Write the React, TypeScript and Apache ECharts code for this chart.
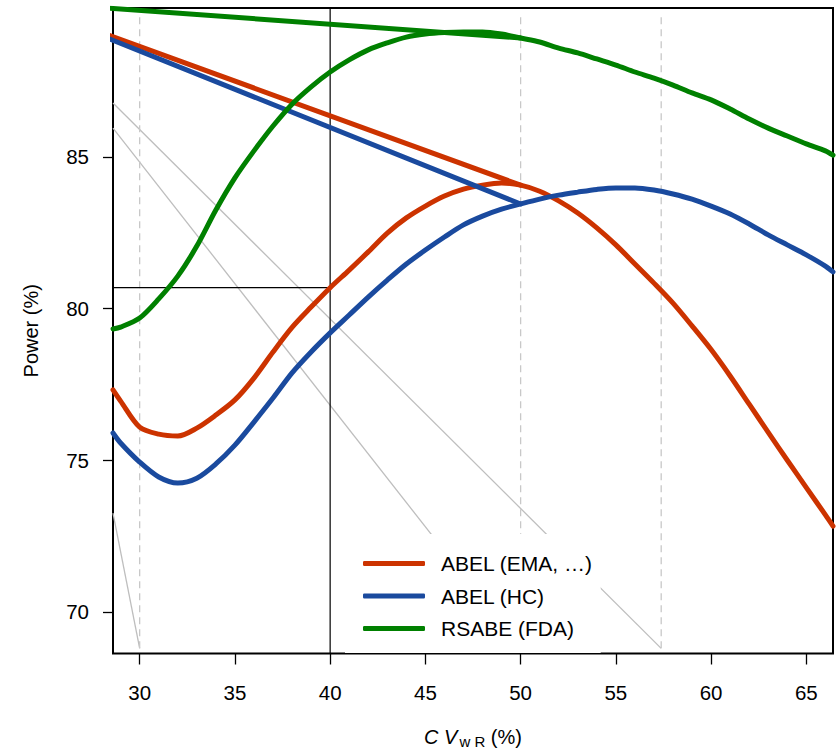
import React, { useEffect, useRef } from "react";
import * as echarts from "echarts";

// CV_wR (%) at which the powers were read
const cv = [
  28.6, 29, 30, 31, 32, 33, 34, 35, 36, 37, 38, 39, 40, 41, 42, 43, 44, 45, 46, 47,
  48, 49, 50, 51, 52, 53, 54, 55, 56, 57, 58, 59, 60, 61, 62, 63, 64, 65, 66, 66.4,
];
// Power (%) of each method
const abelEma = [
  77.32, 76.95, 76.09, 75.86, 75.8, 76.06, 76.49, 76.99, 77.71, 78.57, 79.38, 80.05, 80.69, 81.27, 81.87, 82.49, 82.99, 83.38, 83.71, 83.94,
  84.07, 84.14, 84.07, 83.87, 83.55, 83.15, 82.66, 82.1, 81.47, 80.84, 80.18, 79.43, 78.65, 77.78, 76.85, 75.92, 75.0, 74.1, 73.2, 72.83,
];
const abelHc = [
  75.9, 75.57, 74.94, 74.45, 74.25, 74.41, 74.88, 75.5, 76.26, 77.05, 77.88, 78.57, 79.2, 79.79, 80.38, 80.94, 81.47, 81.93, 82.36, 82.76,
  83.05, 83.28, 83.45, 83.61, 83.74, 83.84, 83.93, 83.98, 83.98, 83.91, 83.78, 83.61, 83.38, 83.12, 82.79, 82.43, 82.1, 81.77, 81.4, 81.21,
];
const rsabeFda = [
  79.33, 79.39, 79.69, 80.32, 81.07, 82.06, 83.25, 84.31, 85.2, 86.02, 86.74, 87.31, 87.8, 88.2, 88.53, 88.76, 88.95, 89.05, 89.1, 89.12,
  89.12, 89.05, 88.92, 88.79, 88.59, 88.43, 88.23, 88.03, 87.8, 87.6, 87.37, 87.11, 86.88, 86.58, 86.25, 85.95, 85.69, 85.43, 85.2, 85.06,
];

// straight connectors from a common off-chart point to the CV = 50 power
const connectorStart = [23.5, 90.13];
const connectorEndCV = 50;

// grey reference lines: [cv0, power0, cv1, power1]
const greyLines = [
  [28.6, 86.78, 57.38, 68.8],
  [28.6, 85.95, 50, 68.8],
  [28.6, 73.26, 30, 68.8],
];
// dashed vertical marks
const dashedCV = [30, 50, 57.38];
const dashedRange = [68.8, 89.75];
// black cross-hair
const crossCV = 40;
const crossPower = 80.69;

const xTicks = [30, 35, 40, 45, 50, 55, 60, 65];
const yTicks = [70, 75, 80, 85];
const xRange = [28.6, 66.4];
const yRange = [68.63, 89.91];

const names = ["ABEL (EMA, …)", "ABEL (HC)", "RSABE (FDA)"];
const colors = ["#CC3300", "#1A4A9E", "#008000"];

const FONT = "'Liberation Sans', Arial, Helvetica, sans-serif";
const FS = 20.5;

export default function App() {
  const ref = useRef<HTMLDivElement>(null);
  useEffect(() => {
    if (!ref.current) return;
    const chart = echarts.init(ref.current, null, { renderer: "svg" });
    const curves = [abelEma, abelHc, rsabeFda];
    const series: any[] = [];
    greyLines.forEach((g, i) => {
      series.push({
        type: "line",
        name: "grey" + i,
        data: [
          [g[0], g[1]],
          [g[2], g[3]],
        ],
        symbol: "none",
        silent: true,
        lineStyle: { color: "#bebebe", width: 1.3 },
        z: 1,
      });
    });
    dashedCV.forEach((x, i) => {
      series.push({
        type: "line",
        name: "dash" + i,
        data: [
          [x, dashedRange[0]],
          [x, dashedRange[1]],
        ],
        symbol: "none",
        silent: true,
        lineStyle: { color: "#c8c8c8", width: 1.3, type: [7, 5] },
        z: 1,
      });
    });
    series.push({
      type: "line",
      name: "crossV",
      data: [
        [crossCV, yRange[0]],
        [crossCV, yRange[1]],
      ],
      symbol: "none",
      silent: true,
      lineStyle: { color: "#000", width: 1.2 },
      z: 1,
    });
    series.push({
      type: "line",
      name: "crossH",
      data: [
        [xRange[0], crossPower],
        [crossCV, crossPower],
      ],
      symbol: "none",
      silent: true,
      lineStyle: { color: "#000", width: 1.2 },
      z: 1,
    });
    curves.forEach((vals, k) => {
      const endIdx = cv.indexOf(connectorEndCV);
      series.push({
        type: "line",
        name: names[k] + " connector",
        data: [connectorStart, [cv[endIdx], vals[endIdx]]],
        symbol: "none",
        silent: true,
        lineStyle: { color: colors[k], width: 5, cap: "round" },
        z: 2 + k,
      });
      series.push({
        type: "line",
        name: names[k],
        data: cv.map((x, i) => [x, vals[i]]),
        symbol: "none",
        smooth: 0.3,
        color: colors[k],
        lineStyle: { color: colors[k], width: 5, cap: "round", join: "round" },
        z: 2 + k,
      });
    });

    chart.setOption({
      animation: false,
      backgroundColor: "#fff",
      textStyle: { fontFamily: FONT },
      grid: {
        left: 113,
        top: 8,
        right: 3,
        bottom: 96.5,
        show: true,
        borderColor: "#000",
        borderWidth: 2,
        outerBoundsMode: "none",
      },
      legend: {
        data: names,
        orient: "vertical",
        left: 345,
        top: 534,
        padding: [19, 8, 14, 18],
        backgroundColor: "#fff",
        itemWidth: 62,
        itemHeight: 5,
        itemGap: 11.5,
        icon: "roundRect",
        itemStyle: { borderWidth: 0 },
        selectedMode: false,
        textStyle: { fontSize: 21, color: "#000", fontFamily: FONT, padding: [0, 0, 0, 11] },
        z: 10,
      },
      xAxis: {
        type: "value",
        min: xRange[0],
        max: xRange[1],
        splitLine: { show: false },
        axisLine: { show: false },
        axisTick: {
          show: true,
          length: 11,
          lineStyle: { color: "#000", width: 1.3 },
          customValues: xTicks,
        },
        axisLabel: {
          customValues: xTicks,
          fontSize: FS,
          color: "#000",
          margin: 28,
          fontFamily: FONT,
        },
        name: "{i|C V}{s|w R}{n| (%)}",
        nameLocation: "middle",
        nameGap: 72,
        nameTextStyle: {
          fontSize: 20,
          color: "#000",
          fontFamily: FONT,
          rich: {
            i: { fontSize: 20, fontStyle: "italic", fontFamily: FONT, color: "#000" },
            s: { fontSize: 15, fontFamily: FONT, color: "#000", padding: [8, 0, 0, 2] },
            n: { fontSize: 20, fontFamily: FONT, color: "#000" },
          },
        },
      },
      yAxis: {
        type: "value",
        min: yRange[0],
        max: yRange[1],
        splitLine: { show: false },
        axisLine: { show: false },
        axisTick: {
          show: true,
          length: 10,
          lineStyle: { color: "#000", width: 1.3 },
          customValues: yTicks,
        },
        axisLabel: {
          customValues: yTicks,
          fontSize: FS,
          color: "#000",
          margin: 24,
          fontFamily: FONT,
        },
        name: "Power (%)",
        nameLocation: "middle",
        nameGap: 72,
        nameTextStyle: { fontSize: 20, color: "#000", fontFamily: FONT },
      },
      series,
    });
    return () => chart.dispose();
  }, []);
  return (
    <div
      ref={ref}
      style={{ position: "absolute", left: 0, top: 0, width: 836, height: 750 }}
    />
  );
}
